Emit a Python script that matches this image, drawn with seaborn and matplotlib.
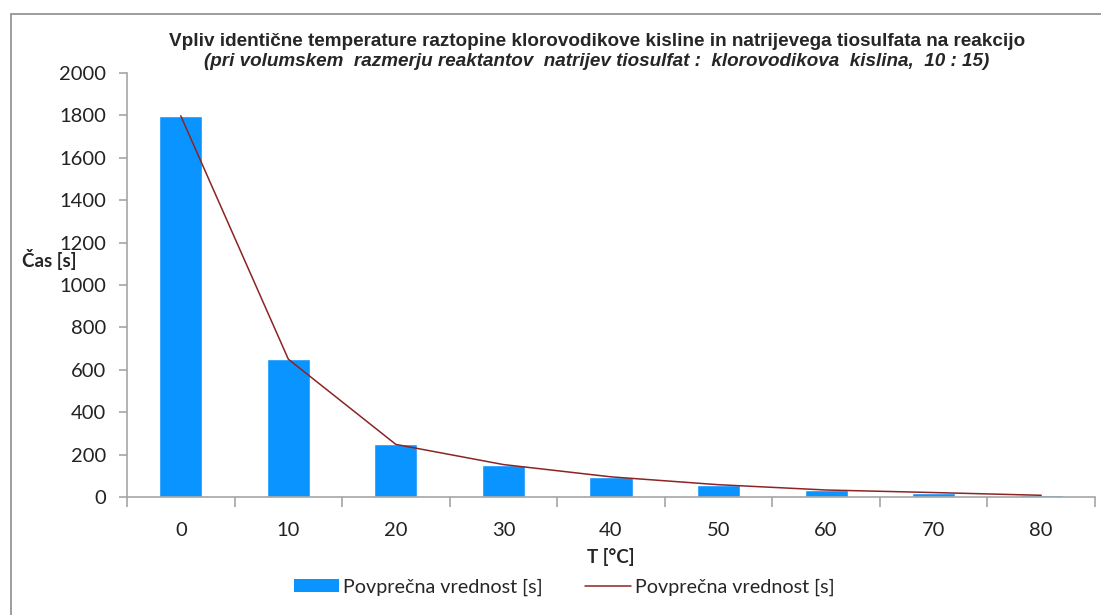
import matplotlib
matplotlib.use("Agg")
import matplotlib.pyplot as plt
from matplotlib.patches import Rectangle, Patch
from matplotlib.lines import Line2D
from matplotlib.ticker import FixedLocator
import seaborn as sns
import pandas as pd
import numpy as np

# Measured data: mean reaction time per temperature
temperatures = ["0", "10", "20", "30", "40", "50", "60", "70", "80"]
mean_time = [1798, 650, 248, 153, 95, 58, 33, 21, 8]
y_ticks = [0, 200, 400, 600, 800, 1000, 1200, 1400, 1600, 1800, 2000]

series_label = "Povprečna vrednost [s]"
title_main = ("Vpliv identične temperature raztopine klorovodikove kisline "
              "in natrijevega tiosulfata na reakcijo")
title_sub = ("(pri volumskem  razmerju reaktantov  natrijev tiosulfat :  "
             "klorovodikova  kislina,  10 : 15)")

BAR_COLOR = "#0A94FF"
LINE_COLOR = "#8C2424"
AXIS_COLOR = "#A6A6A6"

sns.set_style("white")
plt.rcParams["font.family"] = ["Lato", "DejaVu Sans"]
title_family = ["Liberation Sans Narrow", "Liberation Sans", "DejaVu Sans"]

df = pd.DataFrame({"T": temperatures, "t": mean_time})
df["pos"] = np.arange(len(df))

W, H = 1101, 615
fig = plt.figure(figsize=(W / 100, H / 100), dpi=100)
fig.patch.set_facecolor("white")

ax = fig.add_axes([127 / W, 1 - 497 / H, (1095 - 127) / W, (497 - 73) / H])
ax.set_facecolor("white")

sns.barplot(data=df, x="T", y="t", order=temperatures, color=BAR_COLOR,
            saturation=1, width=0.4, ax=ax)
sns.lineplot(data=df, x="pos", y="t", color=LINE_COLOR, linewidth=1.1,
             sort=False, ax=ax)

ax.set_xlim(-0.5, len(temperatures) - 0.5)
ax.set_ylim(0, 2000)
ax.set_yticks(y_ticks)
ax.set_yticklabels([str(v) for v in y_ticks])
ax.set_xticks(np.arange(len(temperatures)))
ax.set_xticklabels(temperatures)
ax.xaxis.set_minor_locator(FixedLocator(np.arange(len(temperatures) + 1) - 0.5))

for side in ("top", "right"):
    ax.spines[side].set_visible(False)
for side in ("left", "bottom"):
    ax.spines[side].set_color(AXIS_COLOR)
    ax.spines[side].set_linewidth(1.2)

ax.tick_params(axis="y", which="major", direction="out", length=6, width=1.2,
               color=AXIS_COLOR, left=True, labelsize=14.5, labelcolor="#222222",
               pad=9)
ax.tick_params(axis="x", which="major", length=0, labelsize=14.5,
               labelcolor="#222222", pad=18)
ax.tick_params(axis="x", which="minor", direction="out", length=7, width=1.2,
               color=AXIS_COLOR, bottom=True)

ax.set_xlabel("T [°C]", fontsize=13.5, fontweight="bold", labelpad=6)
ax.set_ylabel("Čas [s]", fontsize=13.5, fontweight="bold", rotation=0,
              ha="center", va="center")
ax.yaxis.set_label_coords((49 - 127) / (1095 - 127), (497 - 260) / (497 - 73))
ax.xaxis.set_label_coords(0.5, (497 - 557) / (497 - 73))
ax.xaxis.label.set_va("center")

fig.text(597 / W, 1 - 42 / H, title_main, ha="center", va="center",
         fontsize=13.6, fontweight="bold", family=title_family)
fig.text(597 / W, 1 - 62 / H, title_sub, ha="center", va="center",
         fontsize=13.6, fontweight="bold", style="italic", family=title_family)

handles = [Patch(facecolor=BAR_COLOR, edgecolor="none"),
           Line2D([], [], color=LINE_COLOR, linewidth=1.1)]
fig.legend(handles, [series_label, series_label], loc="center",
           bbox_to_anchor=(564 / W, 1 - 587 / H), ncol=2, frameon=False,
           fontsize=14.2, handlelength=2.3, handletextpad=0.2,
           columnspacing=2.15, borderpad=0)

# chart area frame
fig.add_artist(Rectangle((11 / W, -0.2), 1.2, 1.2 - 14 / H,
                         transform=fig.transFigure, fill=False,
                         edgecolor="#8C8C8C", linewidth=1.2))

fig.savefig("out.png", dpi=100, facecolor="white")
